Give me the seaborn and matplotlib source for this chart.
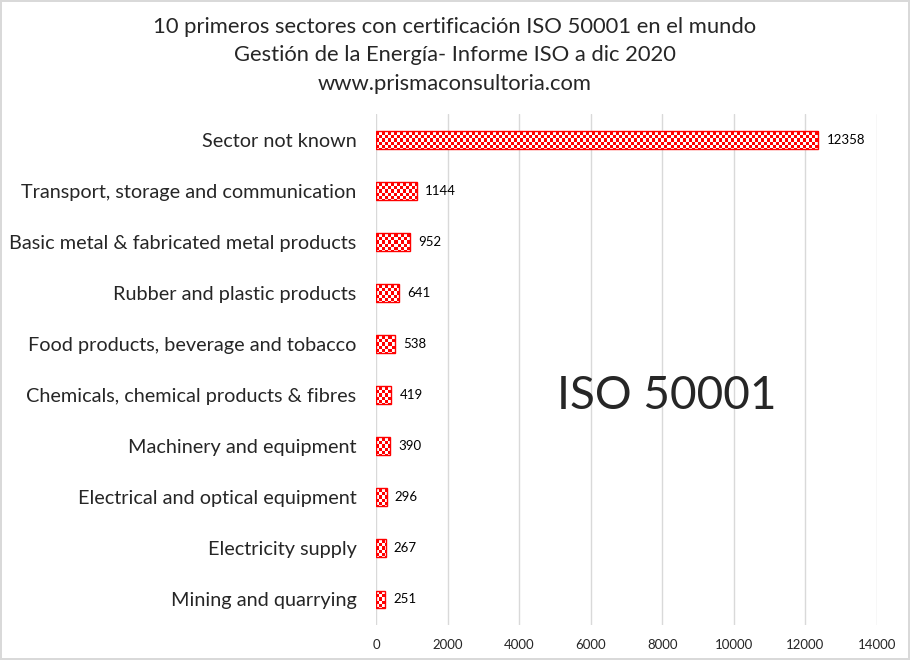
import matplotlib
matplotlib.use("Agg")
import matplotlib.pyplot as plt
import numpy as np
import seaborn as sns

sectors = [
    "Sector not known",
    "Transport, storage and communication",
    "Basic metal & fabricated metal products",
    "Rubber and plastic products",
    "Food products, beverage and tobacco",
    "Chemicals, chemical products & fibres",
    "Machinery and equipment",
    "Electrical and optical equipment",
    "Electricity supply",
    "Mining and quarrying",
]
certificates = [12358, 1144, 952, 641, 538, 419, 390, 296, 267, 251]
x_ticks = [0, 2000, 4000, 6000, 8000, 10000, 12000, 14000]

title = ("10 primeros sectores con certificación ISO 50001 en el mundo\n"
         "Gestión de la Energía- Informe ISO a dic 2020\n"
         "www.prismaconsultoria.com")

sns.set_style("white")
plt.rcParams["font.family"] = ["Lato", "DejaVu Sans"]

fig = plt.figure(figsize=(9.1, 6.6), dpi=100)
fig.patch.set_edgecolor("#d9d9d9")
fig.patch.set_linewidth(1.5)
ax = fig.add_axes([0.4132, 0.053, 0.5505, 0.774])

sns.barplot(x=certificates, y=sectors, orient="h", color="red",
            width=0.35, ax=ax)

ax.set_xlim(0, 14000)
ax.set_ylim(9.5, -0.5)

# checkerboard fill clipped to each bar
checker = (np.indices((170, 167)).sum(axis=0) % 2).astype(float)
cmap = matplotlib.colors.ListedColormap(["red", "white"])
for patch in ax.patches:
    patch.set_edgecolor("red")
    patch.set_linewidth(1)
    img = ax.imshow(checker, cmap=cmap, extent=(0, 14000, 9.5, -0.5),
                    aspect="auto", interpolation="nearest", zorder=2)
    img.set_clip_path(patch)
    patch.set_zorder(3)
    patch.set_facecolor("none")

ax.set_xlim(0, 14000)
ax.set_ylim(9.5, -0.5)

for i, v in enumerate(certificates):
    ax.annotate(f"{v}", xy=(v, i), xytext=(6, 0), textcoords="offset points",
                va="center", ha="left", fontsize=9.5, color="black")

ax.set_xticks(x_ticks)
ax.xaxis.grid(True, color="#d9d9d9", linewidth=1)
ax.set_axisbelow(True)
for s in ax.spines.values():
    s.set_visible(False)
ax.tick_params(axis="x", labelsize=9.5, length=0, pad=10)
ax.tick_params(axis="y", labelsize=14.3, length=0, pad=14)
ax.set_xlabel("")
ax.set_ylabel("")

ax.text(0.58, 0.448, "ISO 50001", transform=ax.transAxes, fontsize=33,
        ha="center", va="center")

fig.suptitle(title, y=0.974, fontsize=15.8, linespacing=1.52)

fig.savefig("out.png", dpi=100, edgecolor=fig.get_edgecolor())
